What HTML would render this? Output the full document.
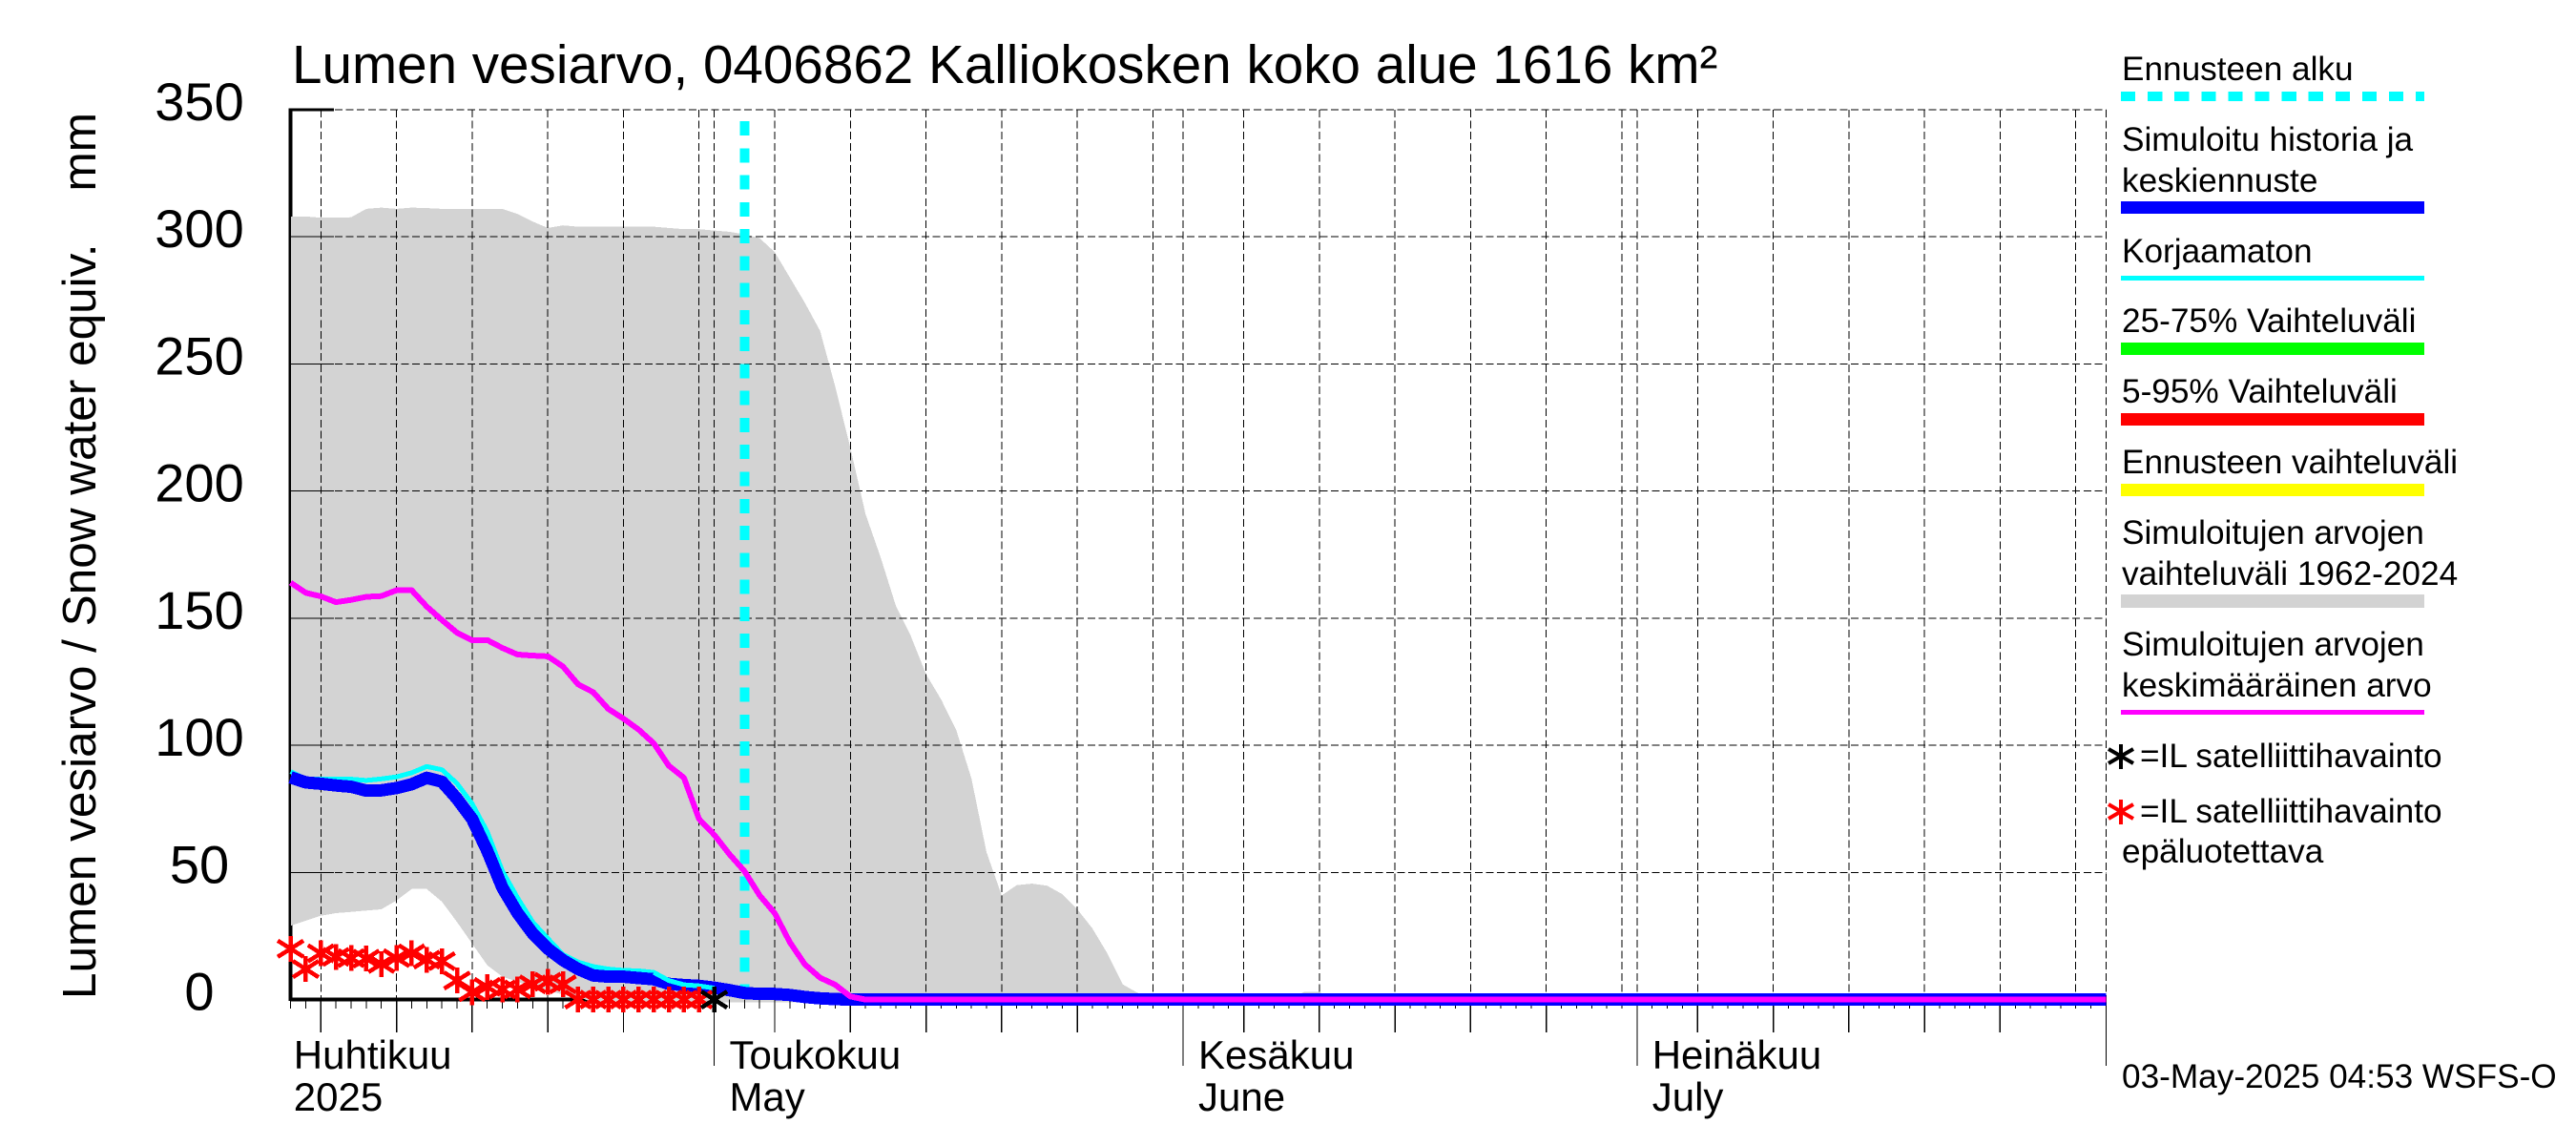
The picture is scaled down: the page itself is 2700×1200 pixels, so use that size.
<!DOCTYPE html>
<html lang="fi">
<head>
<meta charset="utf-8">
<title>Lumen vesiarvo</title>
<style>
html,body{margin:0;padding:0;background:#fff;width:2700px;height:1200px;overflow:hidden}
svg{display:block;font-family:"Liberation Sans",Arial,sans-serif;fill:#000}
.leg{font-size:35.2px}
.ax{font-size:42px}
.yt{font-size:56px;text-anchor:middle}
.crisp,.crisp *{shape-rendering:crispEdges}
</style>
</head>
<body>
<svg id="chart" xmlns="http://www.w3.org/2000/svg" width="2700" height="1200" viewBox="0 0 2700 1200">
  <text x="306" y="87" font-size="56.6">Lumen vesiarvo, 0406862 Kalliokosken koko alue 1616 km²</text>
  <text transform="translate(100,1047) rotate(-90)" font-size="49.5" style="white-space:pre">Lumen vesiarvo / Snow water equiv.    mm</text>
  <g id="axes-thick" class="crisp"></g>
  <g id="bands" class="crisp"></g>
  <g id="grid" class="crisp"></g>
  <g id="ticks" class="crisp"></g>
  <g id="ylabels"></g>
  <g id="xlabels"></g>
  <g id="forecast" class="crisp"></g>
  <g id="lines" class="crisp"></g>
  <g id="stars" class="crisp"></g>

  <g id="legend">
    <g>
      <text class="leg" x="2224" y="84">Ennusteen alku</text>
      <line x1="2223" x2="2541" y1="101" y2="101" stroke="#00ffff" stroke-width="10" stroke-dasharray="15.2 12.9" shape-rendering="crispEdges"/>
    </g>
    <g>
      <text class="leg" x="2224" y="158">Simuloitu historia ja</text>
      <text class="leg" x="2224" y="201">keskiennuste</text>
      <rect x="2223" y="211" width="318" height="13" fill="#0000ff"/>
    </g>
    <g>
      <text class="leg" x="2224" y="275">Korjaamaton</text>
      <rect x="2223" y="289" width="318" height="5" fill="#00ffff"/>
    </g>
    <g>
      <text class="leg" x="2224" y="348">25-75% Vaihteluväli</text>
      <rect x="2223" y="359" width="318" height="13" fill="#00ff00"/>
    </g>
    <g>
      <text class="leg" x="2224" y="422">5-95% Vaihteluväli</text>
      <rect x="2223" y="433" width="318" height="13" fill="#ff0000"/>
    </g>
    <g>
      <text class="leg" x="2224" y="496">Ennusteen vaihteluväli</text>
      <rect x="2223" y="507" width="318" height="13" fill="#ffff00"/>
    </g>
    <g>
      <text class="leg" x="2224" y="570">Simuloitujen arvojen</text>
      <text class="leg" x="2224" y="613">vaihteluväli 1962-2024</text>
      <rect x="2223" y="623" width="318" height="14" fill="#d3d3d3"/>
    </g>
    <g>
      <text class="leg" x="2224" y="687">Simuloitujen arvojen</text>
      <text class="leg" x="2224" y="730">keskimääräinen arvo</text>
      <rect x="2223" y="744" width="318" height="5" fill="#ff00ff"/>
    </g>
    <g>
      <g stroke="#000" stroke-width="4" fill="none">
        <line x1="2223" x2="2223" y1="780" y2="806"/>
        <line x1="2210" x2="2236" y1="785" y2="800"/>
        <line x1="2210" x2="2236" y1="800" y2="785"/>
      </g>
      <text class="leg" x="2243" y="804">=IL satelliittihavainto</text>
    </g>
    <g>
      <g stroke="#ff0000" stroke-width="4" fill="none">
        <line x1="2223" x2="2223" y1="838" y2="864"/>
        <line x1="2210" x2="2236" y1="843" y2="858"/>
        <line x1="2210" x2="2236" y1="858" y2="843"/>
      </g>
      <text class="leg" x="2243" y="862">=IL satelliittihavainto</text>
      <text class="leg" x="2224" y="904">epäluotettava</text>
    </g>
  </g>
  <text class="leg" x="2224" y="1140">03-May-2025 04:53 WSFS-O</text>
</svg>

<script>
// ---- chart data (day index 0 = 3 April 2025, one value per day) ----
const yTicks = [0, 50, 100, 150, 200, 250, 300, 350];
const monthLabelsFi = ["Huhtikuu", "Toukokuu", "Kesäkuu", "Heinäkuu"];
const monthLabelsEn = ["2025", "May", "June", "July"];
const monthLabelDays = [0.2, 29, 60, 90];
const monthStartDays = [28, 59, 89, 120];
const gridDays = [2,7,12,17,22,27,28,32,37,42,47,52,57,59,63,68,73,78,83,88,89,93,98,103,108,113,118,120];
const midTickDays = [2,7,12,17,22,32,37,42,47,52,63,68,73,78,83,93,98,103,108,113];
const forecastStartDay = 30;

const rangeUpper = [308,308,307.5,307.5,307.7,311,311.5,311,311.5,311.3,311,311,311,311,311,309,306,303.5,304.5,304,304,304,304,304,304,303.5,303,303,302.5,302,301,299.5,294,284,274,263,241,217,191,174,155,143,128,118,106,87,58,41,45,45.6,44.8,41.5,35.5,28,18,6,2.6,1,0,0,0,0,0,0,0,0,0,3,3,0,0,0,0,0,0,0,0,0,0,0,0,0,0,0,0,0,0,0,0,0,0,0,0,0,0,0,0,0,0,0,0,0,0,0,0,0,0,0,0,0,0,0,0,0,0,0,0,0,0,0,0];
const rangeLower = [29,31,33,34,34.5,35,35.5,39,43.5,43.5,38.5,30.5,22,13.5,9,7,5,3.5,2,1,-1,-1,-1,-1,-1,-1,-1,-1,-1,-1,-1,-1,-1,-1,-1,-1,-1,-1,-1,-1,-1,-1,-1,-1,-1,-1,-1,-1,-1,-1,-1,-1,-1,-1,-1,-1,-1,-1,-1,-1,-1,-1,-1,-1,-1,-1,-1,-1,-1,-1,-1,-1,-1,-1,-1,-1,-1,-1,-1,-1,-1,-1,-1,-1,-1,-1,-1,-1,-1,-1,-1,-1,-1,-1,-1,-1,-1,-1,-1,-1,-1,-1,-1,-1,-1,-1,-1,-1,-1,-1,-1,-1,-1,-1,-1,-1,-1,-1,-1,-1,-1];
const simulatedMain = [87.4,85.4,84.9,84.2,83.7,82.2,82.3,83.2,84.7,87.2,85.7,79,71,58.5,44,34,26,20,15.5,12,9.5,9,9,8.5,8,6.2,5.7,5.4,4.7,3.7,2.6,2.2,2.2,1.8,1,0.5,0.2,0,0,0,0,0,0,0,0,0,0,0,0,0,0,0,0,0,0,0,0,0,0,0,0,0,0,0,0,0,0,0,0,0,0,0,0,0,0,0,0,0,0,0,0,0,0,0,0,0,0,0,0,0,0,0,0,0,0,0,0,0,0,0,0,0,0,0,0,0,0,0,0,0,0,0,0,0,0,0,0,0,0,0,0];
const uncorrected = [89.7,86.7,86.7,86.7,86.7,86.2,86.8,87.6,89.2,91.7,90.4,85,77,66,50.5,40,30.5,24,17.7,14.8,13,12,11.5,11.3,10.7,7.5,5.8,5.4,4.5];
const simulatedMean = [164,160,158.6,156.3,157.2,158.4,158.7,161,161,154.6,149.3,144.3,141.3,141.4,138.3,135.7,135.3,135,131,124,120.9,114.3,110.5,106.2,100.8,92,87.2,71,64.8,57.2,50.5,41,34,22.5,13.8,8.6,5.8,1.2,0,0,0,0,0,0,0,0,0,0,0,0,0,0,0,0,0,0,0,0,0,0,0,0,0,0,0,0,0,0,0,0,0,0,0,0,0,0,0,0,0,0,0,0,0,0,0,0,0,0,0,0,0,0,0,0,0,0,0,0,0,0,0,0,0,0,0,0,0,0,0,0,0,0,0,0,0,0,0,0,0,0,0];
const unreliableObs = [20,12,18.2,16.8,16.3,16.1,14,16.3,18.2,15.7,15.1,7.5,2.9,5,4,4,6,7,6,0,0,0,0,0,0,0,0,0];
const reliableObsDays = [28];
const reliableObs = [0];

// ---- axis functions ----
const NS = "http://www.w3.org/2000/svg";
const xLeft = 304.6, dayWidth = 15.857, lastDay = 120;
const yZero = 1047.6, unitHeight = 2.6646, yMax = 350;
const plotRight = xLeft + lastDay * dayWidth;
const plotTop = yZero - yMax * unitHeight;
const overlapStartDay = 24;
function xAt(day) { return xLeft + day * dayWidth; }
function yAt(value) { return yZero - value * unitHeight; }
function make(tag, attrs, parent) {
  const el = document.createElementNS(NS, tag);
  for (const k in attrs) el.setAttribute(k, attrs[k]);
  parent.appendChild(el);
  return el;
}
function linePoints(values, firstDay) {
  return values.map(function (v, i) { return xAt(i + (firstDay || 0)).toFixed(1) + "," + yAt(v).toFixed(1); }).join(" ");
}
const gAxes = document.getElementById("axes-thick");
const gBands = document.getElementById("bands");
const gGrid = document.getElementById("grid");
const gTicks = document.getElementById("ticks");
const gYL = document.getElementById("ylabels");
const gXL = document.getElementById("xlabels");
const gFc = document.getElementById("forecast");
const gLines = document.getElementById("lines");
const gStars = document.getElementById("stars");

// thick axes (hidden behind the grey band where it overlaps)
let el = make("line", {x1: xLeft, x2: xLeft, y1: plotTop - 1.5, y2: yZero + 1.5, stroke: "#000", "stroke-width": 4}, gAxes);


el = make("line", {x1: xLeft, x2: plotRight, y1: yZero, y2: yZero, stroke: "#000", "stroke-width": 4}, gAxes);


el = make("line", {x1: xLeft, x2: 350, y1: plotTop, y2: plotTop, stroke: "#000", "stroke-width": 3}, gAxes);



// grey simulated range
const upperPts = rangeUpper.map(function (v, i) { return xAt(i).toFixed(1) + "," + yAt(v).toFixed(1); });
const lowerPts = rangeLower.map(function (v, i) { return xAt(i).toFixed(1) + "," + yAt(v).toFixed(1); }).reverse();
el = make("polygon", {points: upperPts.concat(lowerPts).join(" "), fill: "#d3d3d3"}, gBands);



// left thin axis over grey
el = make("line", {x1: xLeft, x2: xLeft, y1: plotTop, y2: yZero, stroke: "#000", "stroke-width": 1}, gGrid);



// grid
yTicks.forEach(function (t) {
  if (t === 0) return;
  const g = make("line", {x1: xLeft, x2: plotRight, y1: yAt(t), y2: yAt(t), stroke: "#000", "stroke-width": 1, "stroke-dasharray": "8 3.6"}, gGrid);
  
  
  const s = make("line", {x1: xLeft, x2: 350, y1: yAt(t), y2: yAt(t), stroke: "#000", "stroke-width": 1}, gGrid);
  
  
});
gridDays.forEach(function (d) {
  const g = make("line", {x1: xAt(d), x2: xAt(d), y1: plotTop, y2: yZero, stroke: "#000", "stroke-width": 1, "stroke-dasharray": "8 3.6"}, gGrid);
  
  
});

// x ticks
for (let d = 0; d <= lastDay; d++) {
  const t = make("line", {x1: xAt(d), x2: xAt(d), y1: yZero, y2: 1057, stroke: "#000", "stroke-width": 1}, gTicks);
  
  
}
midTickDays.forEach(function (d) {
  const t = make("line", {x1: xAt(d), x2: xAt(d), y1: yZero, y2: 1082, stroke: "#000", "stroke-width": 1.4}, gTicks);
  
  
});
monthStartDays.forEach(function (d) {
  const t = make("line", {x1: xAt(d), x2: xAt(d), y1: yZero, y2: 1117, stroke: "#000", "stroke-width": 1}, gTicks);
  
  
});

// y labels
yTicks.forEach(function (t) {
  const l = make("text", {x: 209, y: yAt(t) + 11, "class": "yt"}, gYL);
  
  
  l.textContent = t;
});

// x labels
monthLabelsFi.forEach(function (name, i) {
  const x = xAt(monthLabelDays[i]);
  const a = make("text", {x: x, y: 1120, "class": "ax"}, gXL);
  
  
  a.textContent = name;
  const b = make("text", {x: x, y: 1164, "class": "ax"}, gXL);
  
  
  b.textContent = monthLabelsEn[i];
});

// forecast start
el = make("line", {x1: xAt(forecastStartDay), x2: xAt(forecastStartDay), y1: 127, y2: 1047, stroke: "#00ffff", "stroke-width": 10, "stroke-dasharray": "15 13.27"}, gFc);



// series: uncorrected sits under the blue band until it dips into it near the end
el = make("polyline", {points: linePoints(uncorrected), fill: "none", stroke: "#00ffff", "stroke-width": 5, "stroke-linejoin": "round"}, gLines);


el = make("polyline", {points: linePoints(simulatedMain), fill: "none", stroke: "#0000ff", "stroke-width": 13, "stroke-linejoin": "round"}, gLines);


el = make("polyline", {points: linePoints(uncorrected.slice(overlapStartDay), overlapStartDay), fill: "none", stroke: "#00ffff", "stroke-width": 5, "stroke-linejoin": "round"}, gLines);


el = make("polyline", {points: linePoints(simulatedMean), fill: "none", stroke: "#ff00ff", "stroke-width": 6, "stroke-linejoin": "round"}, gLines);



// star markers
function star(group, day, value, color) {
  const cx = xAt(day), cy = yAt(value);
  const s = make("g", {stroke: color, "stroke-width": 4.5, fill: "none"}, group);
  make("line", {x1: cx, x2: cx, y1: cy - 13.5, y2: cy + 13.5}, s);
  make("line", {x1: cx - 13.5, x2: cx + 13.5, y1: cy + 8.5, y2: cy - 8.5}, s);
  make("line", {x1: cx - 13.5, x2: cx + 13.5, y1: cy - 8.5, y2: cy + 8.5}, s);
  return s;
}
unreliableObs.forEach(function (v, i) {
  const s = star(gStars, i, v, "#ff0000");
  
  
});
reliableObs.forEach(function (v, i) {
  const s = star(gStars, reliableObsDays[i], v, "#000000");
  
  
});
</script>
</body>
</html>
